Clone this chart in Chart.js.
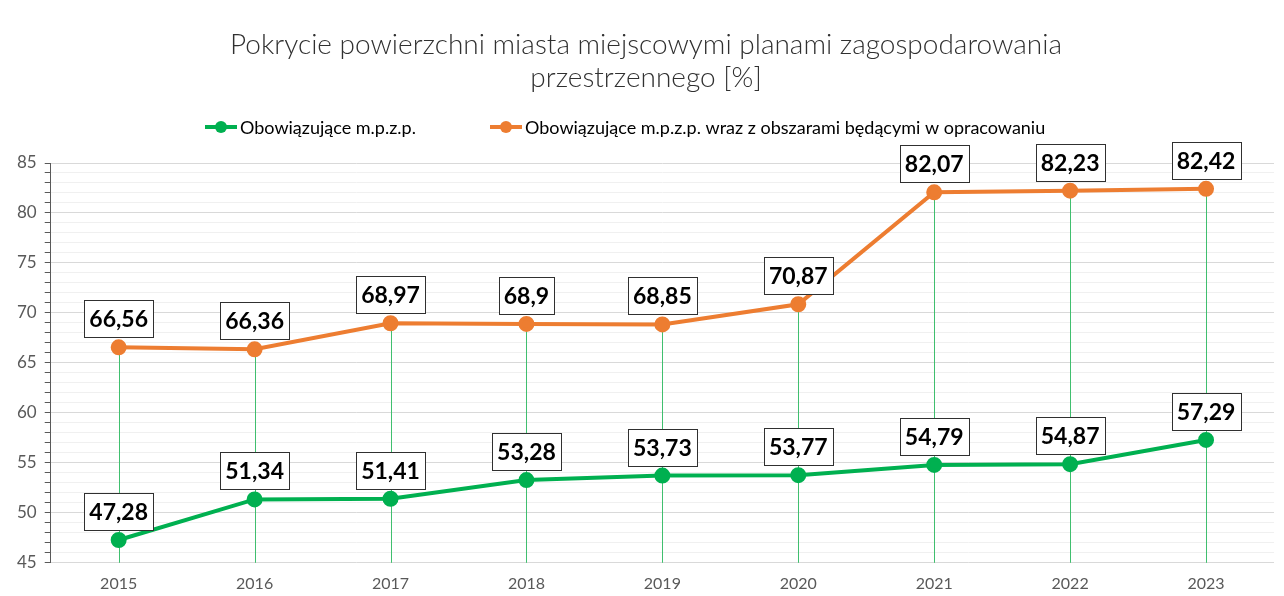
<!DOCTYPE html>
<html>
<head>
<meta charset="utf-8">
<script src="https://cdn.jsdelivr.net/npm/chart.js@4.4.1/dist/chart.umd.min.js"></script>
<style>
  html, body { margin: 0; padding: 0; background: #fff; }
  #wrap { width: 1284px; height: 596px; }
</style>
</head>
<body>
<div id="wrap"><canvas id="mpzpChart" width="1284" height="596"></canvas></div>
<script>
// Chart data
const years = ['2015', '2016', '2017', '2018', '2019', '2020', '2021', '2022', '2023'];
const obowiazujace = [47.28, 51.34, 51.41, 53.28, 53.73, 53.77, 54.79, 54.87, 57.29];
const zOpracowaniem = [66.56, 66.36, 68.97, 68.9, 68.85, 70.87, 82.07, 82.23, 82.42];
const seriesNames = [
  'Obowiązujące m.p.z.p.',
  'Obowiązujące m.p.z.p. wraz z obszarami będącymi w opracowaniu',
];
const titleLines = [
  'Pokrycie powierzchni miasta miejscowymi planami zagospodarowania',
  'przestrzennego [%]',
];

const GREEN = '#00B050';
const ORANGE = '#ED7D31';
const FONT = 'Lato, "Open Sans", sans-serif';

// Title and legend drawn by hand so they sit where Excel put them
const header = {
  id: 'header',
  afterDraw(chart) {
    const { ctx } = chart;
    ctx.save();
    ctx.fillStyle = '#303030';
    ctx.font = '300 28px ' + FONT;
    ctx.textAlign = 'center';
    ctx.textBaseline = 'middle';
    ctx.fillText(titleLines[0], 646, 45);
    ctx.fillText(titleLines[1], 646, 78);

    // legend: line + dot, then text
    const colors = [GREEN, ORANGE];
    const starts = [205, 490];
    ctx.font = '18px ' + FONT;
    ctx.textAlign = 'left';
    seriesNames.forEach((name, i) => {
      const x0 = starts[i];
      const y = 127;
      ctx.strokeStyle = colors[i];
      ctx.lineWidth = 4;
      ctx.beginPath();
      ctx.moveTo(x0, y);
      ctx.lineTo(x0 + 32, y);
      ctx.stroke();
      ctx.fillStyle = colors[i];
      ctx.beginPath();
      ctx.arc(x0 + 16, y, 6, 0, Math.PI * 2);
      ctx.fill();
      ctx.fillStyle = '#000';
      ctx.fillText(name, x0 + 35, y + 1);
    });
    ctx.restore();
  },
};

// Green drop lines from the top series down to the axis
const dropLines = {
  id: 'dropLines',
  beforeDatasetsDraw(chart) {
    const { ctx, chartArea, scales } = chart;
    ctx.save();
    ctx.strokeStyle = '#3fbf6e';
    ctx.lineWidth = 1;
    years.forEach((yr, i) => {
      const x = Math.round(scales.x.getPixelForValue(i)) + 0.5;
      const top = Math.max(obowiazujace[i], zOpracowaniem[i]);
      ctx.beginPath();
      ctx.moveTo(x, scales.y.getPixelForValue(top));
      ctx.lineTo(x, chartArea.bottom);
      ctx.stroke();
    });
    ctx.restore();
  },
};

// Boxed value labels above each point
const valueLabels = {
  id: 'valueLabels',
  afterDatasetsDraw(chart) {
    const { ctx } = chart;
    ctx.save();
    ctx.font = 'bold 23px ' + FONT;
    ctx.textAlign = 'center';
    ctx.textBaseline = 'middle';
    chart.data.datasets.forEach((ds, di) => {
      const meta = chart.getDatasetMeta(di);
      meta.data.forEach((pt, i) => {
        const txt = String(ds.data[i]).replace('.', ',');
        const w = Math.round(ctx.measureText(txt).width + 10);
        const h = 37;
        const bx = Math.round(pt.x - w / 2);
        const by = Math.round(pt.y - 10 - h);
        ctx.fillStyle = '#fff';
        ctx.fillRect(bx, by, w, h);
        ctx.strokeStyle = '#303030';
        ctx.lineWidth = 1;
        ctx.strokeRect(bx + 0.5, by + 0.5, w, h);
        ctx.fillStyle = '#000';
        ctx.fillText(txt, pt.x, by + h / 2 + 1);
      });
    });
    ctx.restore();
  },
};

function createChart() {
  const ctx = document.getElementById('mpzpChart').getContext('2d');
  /* global Chart */
  return new Chart(ctx, {
    type: 'line',
    data: {
      labels: years,
      datasets: [
        {
          label: seriesNames[0],
          data: obowiazujace,
          borderColor: GREEN,
          backgroundColor: GREEN,
          borderWidth: 4,
          pointRadius: 6,
          pointHoverRadius: 6,
        },
        {
          label: seriesNames[1],
          data: zOpracowaniem,
          borderColor: ORANGE,
          backgroundColor: ORANGE,
          borderWidth: 4,
          pointRadius: 6,
          pointHoverRadius: 6,
        },
      ],
    },
    options: {
      responsive: false,
      animation: false,
      layout: { padding: { left: 9, right: 3, top: 163, bottom: -8 } },
      plugins: {
        title: { display: false },
        legend: { display: false },
        tooltip: { enabled: false },
      },
      scales: {
        x: {
          offset: true,
          grid: { display: false, drawTicks: false },
          border: { display: false },
          ticks: {
            color: '#595959',
            font: { family: FONT, size: 16 },
            padding: 11,
          },
        },
        y: {
          min: 45,
          max: 85,
          border: { display: true, color: '#595959' },
          grid: {
            color: (c) => (c.tick && c.tick.value % 5 === 0 ? '#d9d9d9' : '#f0f0f0'),
            tickColor: '#595959',
            tickLength: 6,
          },
          ticks: {
            stepSize: 1,
            autoSkip: false,
            color: '#595959',
            font: { family: FONT, size: 17 },
            padding: 8,
            callback: (v) => (v % 5 === 0 ? v : ''),
          },
        },
      },
    },
    plugins: [dropLines, valueLabels, header],
  });
}

document.addEventListener('DOMContentLoaded', createChart);
</script>
</body>
</html>
